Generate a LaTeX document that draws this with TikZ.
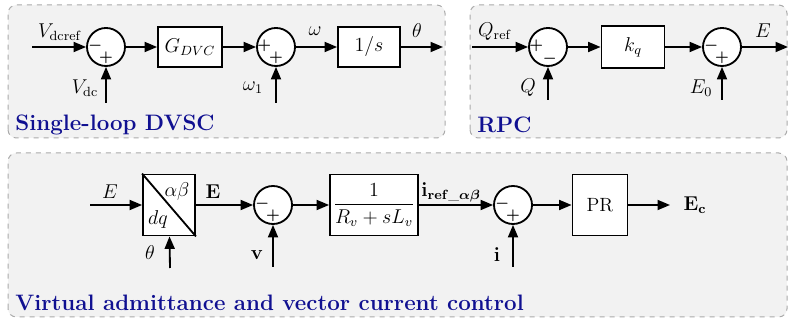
\documentclass[tikz,border=0pt]{standalone}
\usepackage{amsmath,amssymb}
\usepackage{tikz}
\usetikzlibrary{positioning,arrows.meta}

\definecolor{panelgray}{RGB}{242,242,242}
\definecolor{panelline}{RGB}{170,170,170}
\definecolor{titleblue}{RGB}{16,16,145}

\begin{document}
\begin{tikzpicture}[x=0.6pt,y=0.6pt,>={Triangle[length=7.5pt,width=6pt]},
  line width=1.1pt,
  panel/.style={draw=panelline,fill=panelgray,dashed,line width=0.6pt,rounded corners=5pt},
  paneltitle/.style={anchor=west,text=titleblue,font=\fontsize{13.4}{15}\selectfont\bfseries},
  sumnode/.style={circle,draw,fill=white,minimum size=22.8pt,inner sep=0pt},
  blockbox/.style={draw,fill=white,inner sep=0pt,font=\fontsize{11.5}{13}\selectfont},
  sgn/.style={inner sep=0pt,font=\fontsize{9}{10}\selectfont\boldmath},
  lbl/.style={inner sep=1pt,font=\fontsize{11.5}{13}\selectfont}]

\useasboundingbox (0,0) rectangle (790,321);

%---------------------------------
% PANELES
%---------------------------------
\draw[panel] (8,183) rectangle (445,316);
\draw[panel] (470,183) rectangle (787,316);
\draw[panel] (8,4) rectangle (787,168);

\node[paneltitle] (t1) at (9,196) {Single-loop DVSC};
\node[paneltitle] (t2) at (471,196) {RPC};
\node[paneltitle] (t3) at (9,18) {Virtual admittance and vector current control};

%---------------------------------
% SINGLE-LOOP DVSC
%---------------------------------
\coordinate (vref) at (32,274);
\node[sumnode] (s1) at (106,274) {};
\node[blockbox,minimum width=38.4pt,minimum height=24pt] (gdvc) at (190,274) {$G_{DVC}$};
\node[sumnode] (s2) at (276,274) {};
\node[blockbox,minimum width=37.2pt,minimum height=24pt] (integ) at (369,274) {$1/s$};
\coordinate (theta) at (443,274);
\coordinate (vdc) at (106,218);
\coordinate (w1) at (276,218);

\node[sgn] at ([xshift=-6.5pt,yshift=0.5pt]s1.center) {$-$};
\node[sgn] at ([yshift=-6.6pt]s1.center) {$+$};
\node[sgn] at ([xshift=-7pt,yshift=0.5pt]s2.center) {$+$};
\node[sgn] at ([yshift=-6.6pt]s2.center) {$+$};

\draw[->] (vref) -- (s1);
\draw[->] (s1) -- (gdvc);
\draw[->] (gdvc) -- (s2);
\draw[->] (s2) -- (integ);
\draw[->] (integ) -- (theta);
\draw[->] (vdc) -- (s1);
\draw[->] (w1) -- (s2);

\node[lbl] (lvref) at (60,289) {$V_{\mathrm{dcref}}$};
\node[lbl] (lvdc) at (85,233) {$V_{\mathrm{dc}}$};
\node[lbl] (lw) at (315,290) {$\omega$};
\node[lbl] (lw1) at (253,233) {$\omega_1$};
\node[lbl] (lth) at (417,290) {$\theta$};

%---------------------------------
% RPC
%---------------------------------
\coordinate (qref) at (472,274);
\node[sumnode] (s3) at (548,274) {};
\node[blockbox,minimum width=37.8pt,minimum height=25pt] (kq) at (633,274) {$k_q$};
\node[sumnode] (s4) at (722,274) {};
\coordinate (eout) at (788,274);
\coordinate (qin) at (548,221);
\coordinate (e0) at (722,221);

\node[sgn] at ([xshift=-7pt,yshift=1pt]s3.center) {$+$};
\node[sgn] at ([xshift=1pt,yshift=-6.8pt]s3.center) {$-$};
\node[sgn] at ([xshift=-6.5pt,yshift=0.5pt]s4.center) {$-$};
\node[sgn] at ([yshift=-6.6pt]s4.center) {$+$};

\draw[->] (qref) -- (s3);
\draw[->] (s3) -- (kq);
\draw[->] (kq) -- (s4);
\draw[->] (s4) -- (eout);
\draw[->] (qin) -- (s3);
\draw[->] (e0) -- (s4);

\node[lbl] (lqref) at (495,289) {$Q_{\mathrm{ref}}$};
\node[lbl] (lq) at (528,233) {$Q$};
\node[lbl] (le0) at (701,233) {$E_0$};
\node[lbl] (le) at (763,290) {$E$};

%---------------------------------
% VIRTUAL ADMITTANCE AND CURRENT CONTROL
%---------------------------------
\coordinate (ein) at (90,116);
\node[blockbox,minimum width=31.2pt,minimum height=36.6pt] (park) at (169,116) {};
\draw (park.north west) -- (park.south east);
\node[lbl] (lab) at (177,129) {$\alpha\beta$};
\node[lbl] (ldq) at (158,101) {$dq$};
\node[sumnode] (s5) at (273,116) {};
\node[blockbox,minimum width=52.8pt,minimum height=36.6pt] (adm) at (374,116)
{$\dfrac{1}{R_v+sL_v}$};
\node[sumnode] (s6) at (513,116) {};
\node[blockbox,minimum width=33pt,minimum height=36.6pt] (pr) at (600,116) {PR};
\coordinate (ecout) at (670,116);
\coordinate (thin) at (170,53);
\coordinate (vin) at (273,54);
\coordinate (iin) at (513,54);

\node[sgn] at ([xshift=-6.5pt,yshift=0.5pt]s5.center) {$-$};
\node[sgn] at ([yshift=-6.6pt]s5.center) {$+$};
\node[sgn] at ([xshift=-6.5pt,yshift=0.5pt]s6.center) {$-$};
\node[sgn] at ([yshift=-6.6pt]s6.center) {$+$};

\draw[->] (ein) -- (park);
\draw[->] (park) -- (s5);
\draw[->] (s5) -- (adm);
\draw[->] (adm) -- (s6);
\draw[->] (s6) -- (pr);
\draw[->] (pr) -- (ecout);
\draw[->] (thin) -- (park);
\draw[->] (vin) -- (s5);
\draw[->] (iin) -- (s6);

\node[lbl] (lein) at (110,129) {$E$};
\node[lbl] (lth2) at (150,68) {$\theta$};
\node[lbl] (lE) at (213,129) {$\mathbf{E}$};
\node[lbl] (lv) at (257,66) {$\mathbf{v}$};
\node[lbl] (liref) at (451,129) {$\mathbf{i}_{\boldsymbol{\mathrm{ref\_}\alpha\beta}}$};
\node[lbl] (li) at (497,66) {$\mathbf{i}$};
\node[lbl,anchor=west] (lec) at (681,116) {$\mathbf{E_c}$};

\end{tikzpicture}
\end{document}
